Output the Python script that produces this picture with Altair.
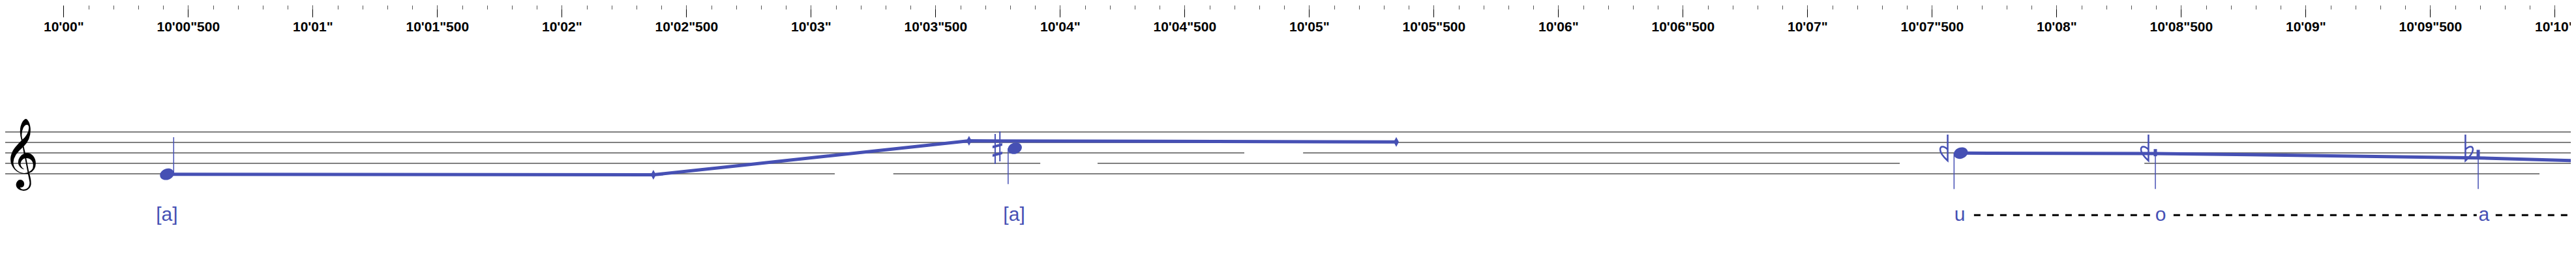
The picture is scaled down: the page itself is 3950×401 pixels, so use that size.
import json
import altair as alt
import pandas as pd

# ---------------- data ----------------
# time axis (seconds after 10'00")
major_ticks = [0.0, 0.5, 1.0, 1.5, 2.0, 2.5, 3.0, 3.5, 4.0, 4.5, 5.0,
               5.5, 6.0, 6.5, 7.0, 7.5, 8.0, 8.5, 9.0, 9.5, 10.0]
tick_labels = ['10\'00"', '10\'00"500', '10\'01"', '10\'01"500', '10\'02"', '10\'02"500',
               '10\'03"', '10\'03"500', '10\'04"', '10\'04"500', '10\'05"', '10\'05"500',
               '10\'06"', '10\'06"500', '10\'07"', '10\'07"500', '10\'08"', '10\'08"500',
               '10\'09"', '10\'09"500', '10\'10"']
minor_ticks = [round(i / 10, 1) for i in range(1, 101)]

# staff lines (position in staff steps, bottom line = 0) and their visible segments
staff_pos = [0, 0, 2, 2, 2, 4, 4, 6, 8]
staff_start = [-0.234, 3.331, -0.234, 4.151, 8.353, -0.234, 4.976, -0.234, -0.234]
staff_end = [3.096, 9.939, 3.921, 7.371, 10.065, 4.740, 10.065, 10.065, 10.065]

# pitch contour
contour_series = [1, 1, 1, 1, 2, 2, 2, 2, 2]
contour_t = [0.415, 2.368, 3.635, 5.35, 7.616, 8.392, 8.777, 9.692, 10.065]
contour_pos = [-0.08, -0.2, 6.3, 6.1, 3.96, 3.875, 3.66, 3.04, 2.54]

# contour break markers
marker_t = [2.368, 3.635, 5.35]
marker_pos = [-0.2, 6.3, 6.1]

# note heads
head_t = [0.4155, 3.819, 7.616]
head_pos = [-0.08, 4.87, 3.96]

# stems
stem_t = [0.4424, 3.792, 7.589, 8.397, 9.693]
stem_top = [7.0, 4.87, 3.96, 4.25, 4.1]
stem_bottom = [-0.08, -1.96, -2.92, -2.92, -2.92]

# small continuation heads
small_t = [8.397, 9.693]
small_pos = [4.04, 3.9]

# accidentals
acc_t = [3.749, 7.549, 8.355, 9.656]
acc_pos = [5.0, 5.0, 5.0, 5.0]
acc_kind = ['sharp', 'halfflat', 'halfflat', 'flat']

# lyrics
lyric_t = [0.415, 3.816, 7.612, 8.418, 9.716]
lyric_text = ['[a]', '[a]', 'u', 'o', 'a']
lyric_pos = [-7.875, -7.875, -7.875, -7.875, -7.875]

# melisma dashes
dash_start = [7.669, 8.470, 9.763]
dash_end = [8.384, 9.687, 10.067]
dash_pos = [-7.91, -7.91, -7.91]

# clef
clef_t = [-0.172]
clef_pos = [3.6]

# ---------------- styling ----------------
BLUE = '#4650b4'
W, H = 3934, 385
x_scale = alt.Scale(domain=[-0.2338, 10.0646], nice=False, zero=False)
y_scale = alt.Scale(domain=[-15.875, 32.25], nice=False, zero=False)

label_expr = f"{json.dumps(tick_labels)}[indexof({json.dumps(major_ticks)}, datum.value)]"

major_axis = alt.Axis(orient='bottom', offset=-H, values=major_ticks, labelExpr=label_expr,
                      tickSize=18, tickColor='black', tickWidth=1, domain=False, grid=False,
                      labelFont='Liberation Sans', labelFontWeight='bold', labelFontSize=21,
                      labelColor='black', labelBaseline='alphabetic', labelPadding=21,
                      labelFlush=False, labelOverlap=False, title=None)
minor_axis = alt.Axis(orient='bottom', offset=-H, values=minor_ticks, labels=False,
                      tickSize=6, tickColor='#555555', tickWidth=1, domain=False, grid=False,
                      title=None)

staff_df = pd.DataFrame({'pos': staff_pos, 'start': staff_start, 'end': staff_end})
contour_df = pd.DataFrame({'series': contour_series, 't': contour_t, 'pos': contour_pos})
marker_df = pd.DataFrame({'t': marker_t, 'pos': marker_pos})
head_df = pd.DataFrame({'t': head_t, 'pos': head_pos})
stem_df = pd.DataFrame({'t': stem_t, 'top': stem_top, 'bottom': stem_bottom})
small_df = pd.DataFrame({'t': small_t, 'pos': small_pos})
acc_df = pd.DataFrame({'t': acc_t, 'pos': acc_pos, 'kind': acc_kind})
lyric_df = pd.DataFrame({'t': lyric_t, 'pos': lyric_pos, 'text': lyric_text})
dash_df = pd.DataFrame({'start': dash_start, 'end': dash_end, 'pos': dash_pos})
clef_df = pd.DataFrame({'t': clef_t, 'pos': clef_pos})

def X(field, axis=None):
    return alt.X(field, type='quantitative', scale=x_scale, axis=axis)

def Y(field):
    return alt.Y(field, type='quantitative', scale=y_scale, axis=None)

staff = alt.Chart(staff_df).mark_rule(color='black', strokeWidth=1.2).encode(
    x=X('start', major_axis), x2='end', y=Y('pos'))

contour = alt.Chart(contour_df).mark_line(color=BLUE, strokeWidth=5, strokeCap='butt').encode(
    x=X('t'), y=Y('pos'), detail='series:N', order='t:Q')

DIAMOND = 'M0,-7.5 L4,0 L0,7.5 L-4,0 Z'
markers = alt.Chart(marker_df).mark_point(shape=DIAMOND, size=4, filled=True, color=BLUE,
                                          opacity=1, strokeWidth=0).encode(x=X('t'), y=Y('pos'))

ELLIPSE = 'M-11,0 A11,8.5 0 1,1 11,0 A11,8.5 0 1,1 -11,0 Z'
heads = alt.Chart(head_df).mark_point(shape=ELLIPSE, size=4, filled=True, color=BLUE, angle=340,
                                      opacity=1, strokeWidth=0).encode(x=X('t'), y=Y('pos'))

stems = alt.Chart(stem_df).mark_rule(color=BLUE, strokeWidth=1.5).encode(
    x=X('t'), y=Y('top'), y2='bottom')

SQUARE = 'M-2.5,-5.5 L2.5,-5.5 L2.5,5.5 L-2.5,5.5 Z'
small = alt.Chart(small_df).mark_point(shape=SQUARE, size=4, filled=True, color=BLUE,
                                       opacity=1, strokeWidth=0).encode(x=X('t'), y=Y('pos'))

SHARP = ('M-4.5,-21 L-2.5,-21 L-2.5,25 L-4.5,25 Z M2.8,-25 L4.8,-25 L4.8,21 L2.8,21 Z '
         'M-7.5,-3 L7.5,-7 L7.5,-3 L-7.5,1 Z M-7.5,10 L7.5,6 L7.5,10 L-7.5,14 Z')
HALFFLAT = 'M5.5,-20 L5.5,20 C0,15 -6,9 -6,3 C-6,-3 0,-3 5.5,3'
FLAT = 'M-5.5,-20 L-5.5,20 C0,15 6,9 6,3 C6,-3 0,-3 -5.5,3'

sharp = alt.Chart(acc_df).transform_filter(alt.datum.kind == 'sharp').mark_point(
    shape=SHARP, size=4, filled=True, color=BLUE, opacity=1, strokeWidth=0).encode(
    x=X('t'), y=Y('pos'))
halfflat = alt.Chart(acc_df).transform_filter(alt.datum.kind == 'halfflat').mark_point(
    shape=HALFFLAT, size=4, filled=False, color=BLUE, opacity=1, strokeWidth=2.5).encode(
    x=X('t'), y=Y('pos'))
flat = alt.Chart(acc_df).transform_filter(alt.datum.kind == 'flat').mark_point(
    shape=FLAT, size=4, filled=False, color=BLUE, opacity=1, strokeWidth=2.5).encode(
    x=X('t'), y=Y('pos'))

lyrics = alt.Chart(lyric_df).mark_text(font='Liberation Sans', fontSize=30, color=BLUE,
                                       align='center', baseline='middle').encode(
    x=X('t'), y=Y('pos'), text='text:N')

dashes = alt.Chart(dash_df).mark_rule(color='black', strokeWidth=3, strokeDash=[10, 10]).encode(
    x=X('start', minor_axis), x2='end', y=Y('pos'))

clef = alt.Chart(clef_df).mark_text(text='\U0001D11E', font='DejaVu Sans', fontSize=92,
                                    color='black', align='center', baseline='middle').encode(
    x=X('t'), y=Y('pos'))

chart = alt.layer(staff, contour, markers, heads, stems, small, sharp, halfflat, flat,
                  lyrics, dashes, clef).resolve_axis(x='independent').properties(
    width=W, height=H, padding=0, autosize=alt.AutoSizeParams(type='none')
).configure_view(stroke=None)

chart.save('out.html', embed_options={'renderer': 'svg', 'actions': False})
